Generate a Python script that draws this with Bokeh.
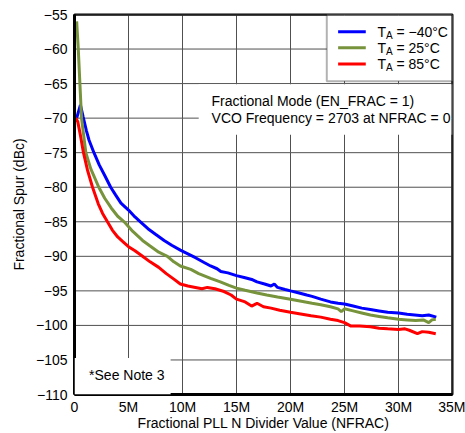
from bokeh.plotting import figure
from bokeh.models import Range1d, FixedTicker, BoxAnnotation, Label
from bokeh.embed import file_html
from bokeh.resources import INLINE

# ---- data (x in millions of NFRAC, y in dBc) ----
blue_x = [0.2, 0.55, 0.8, 1.1, 1.35, 1.8, 2.3, 2.8, 3.35, 3.8, 4.3, 5.0, 5.6, 6.1, 6.8, 7.5,
          8.3, 9.0, 9.8, 10.45, 11.2, 12.0, 12.6, 13.2, 13.55, 14.2, 15.0, 15.8, 16.5, 16.9,
          17.6, 18.2, 18.5, 18.8, 19.5, 20.0, 20.8, 21.5, 22.0, 22.8, 23.7, 24.4, 25.0, 25.8,
          26.6, 27.4, 28.2, 29.0, 30.0, 30.8, 31.5, 32.2, 32.8, 33.5]
blue_y = [-70.0, -68.1, -69.8, -71.8, -73.2, -75.0, -76.8, -78.3, -80.0, -81.1, -82.3, -83.3,
          -84.3, -85.0, -86.0, -86.8, -87.7, -88.4, -89.1, -89.6, -90.2, -90.9, -91.4, -91.8,
          -92.2, -92.4, -92.8, -93.1, -93.4, -93.7, -94.0, -94.3, -94.0, -94.5, -94.8, -95.0,
          -95.3, -95.6, -95.8, -96.2, -96.6, -96.8, -96.9, -97.2, -97.5, -97.7, -97.9, -98.1,
          -98.2, -98.4, -98.5, -98.6, -98.5, -98.8]

green_x = [0.2, 0.35, 0.5, 0.65, 0.85, 1.05, 1.5, 2.25, 2.8, 3.4, 4.0, 4.6, 5.4, 6.3, 7.0, 7.8,
           8.6, 9.2, 9.8, 10.77, 11.5, 12.6, 13.5, 14.3, 15.0, 15.8, 16.9, 17.8, 18.8, 20.0,
           21.0, 22.0, 22.8, 23.7, 24.4, 24.7, 25.0, 25.8, 26.6, 27.4, 28.2, 29.0, 30.0, 30.8,
           31.6, 32.3, 32.8, 33.1, 33.45]
green_y = [-56.0, -60.0, -65.0, -70.0, -72.5, -75.0, -77.3, -80.0, -81.6, -83.0, -84.2, -85.0,
           -86.4, -87.7, -88.5, -89.4, -90.0, -90.8, -91.4, -91.9, -92.5, -93.2, -93.7, -94.2,
           -94.6, -94.9, -95.3, -95.6, -95.9, -96.2, -96.5, -96.8, -97.0, -97.3, -97.6, -98.0,
           -97.6, -97.9, -98.2, -98.5, -98.7, -98.9, -99.1, -99.2, -99.3, -99.2, -99.6, -99.2,
           -99.1]

red_x = [0.1, 0.3, 0.55, 0.83, 1.2, 1.67, 2.2, 2.6, 3.05, 3.5, 4.0, 4.5, 5.0, 5.6, 6.3, 7.0,
         7.8, 8.5, 9.2, 9.8, 10.5, 11.2, 11.8, 12.3, 13.0, 13.85, 14.5, 15.0, 15.8, 16.4, 16.9,
         17.5, 18.2, 19.0, 20.0, 20.8, 21.9, 22.8, 23.7, 24.4, 25.0, 25.6, 26.4, 27.4, 28.2,
         29.0, 30.0, 30.6, 31.0, 31.75, 32.2, 32.8, 33.45]
red_y = [-70.0, -70.5, -72.5, -75.0, -77.5, -80.0, -82.4, -83.8, -85.0, -86.2, -87.2, -87.9,
         -88.6, -89.2, -90.0, -90.8, -91.6, -92.5, -93.3, -94.0, -94.3, -94.5, -94.7, -94.5,
         -94.7, -95.1, -95.6, -96.2, -96.6, -97.2, -96.8, -97.3, -97.5, -97.8, -98.1, -98.3,
         -98.6, -98.8, -99.1, -99.3, -99.6, -100.1, -100.1, -100.2, -100.4, -100.5, -100.6,
         -100.5, -100.7, -101.2, -100.9, -101.0, -101.2]

series_names = ["= \u221240\u00b0C", "= 25\u00b0C", "= 85\u00b0C"]
series_colors = ["#0000FF", "#77933C", "#FF0000"]

x_ticks = [0, 5, 10, 15, 20, 25, 30, 35]
x_tick_labels = ["0", "5M", "10M", "15M", "20M", "25M", "30M", "35M"]
y_ticks = [-110, -105, -100, -95, -90, -85, -80, -75, -70, -65, -60, -55]
y_tick_labels = ["\u2212" + str(abs(v)) for v in y_ticks]

FONT = "Liberation Sans"
X0, X1 = x_ticks[0], x_ticks[-1]
Y0, Y1 = y_ticks[0], y_ticks[-1]
GRID = "#505050"

p = figure(width=465, height=433, output_backend="svg", toolbar_location=None,
           x_range=Range1d(X0, X1), y_range=Range1d(Y0, Y1),
           min_border_left=74, min_border_right=13, min_border_top=14, min_border_bottom=0)
p.background_fill_color = "white"
p.border_fill_color = "white"
p.outline_line_color = "black"
p.outline_line_width = 2

p.xaxis.ticker = FixedTicker(ticks=x_ticks)
p.yaxis.ticker = FixedTicker(ticks=y_ticks)
p.xaxis.major_label_overrides = dict(zip(x_ticks, x_tick_labels))
p.yaxis.major_label_overrides = dict(zip(y_ticks, y_tick_labels))
for ax in (p.xaxis[0], p.yaxis[0]):
    ax.major_label_text_font = FONT
    ax.major_label_text_font_size = "14px"
    ax.major_label_text_color = "black"
    ax.axis_label_text_font = FONT
    ax.axis_label_text_font_size = "14px"
    ax.axis_label_text_font_style = "normal"
    ax.axis_label_text_color = "black"
    ax.major_tick_line_color = None
    ax.minor_tick_line_color = None
    ax.major_tick_out = 0
    ax.major_tick_in = 0
    ax.axis_line_color = "black"
    ax.axis_line_width = 3
    ax.major_label_standoff = 7
p.xaxis.axis_label = "Fractional PLL N Divider Value (NFRAC)"
p.yaxis.axis_label = "Fractional Spur (dBc)"
p.xaxis[0].major_label_standoff = 4
p.xaxis[0].axis_label_standoff = -3
p.xaxis[0].axis_label_text_line_height = 1.0
p.xaxis[0].major_label_text_line_height = 1.0
p.yaxis.axis_label_standoff = 6

# grid: drawn as short pieces between neighbouring ticks, beneath the curves
p.xgrid.visible = False
p.ygrid.visible = False
vx0, vy0, vx1, vy1 = [], [], [], []
for t in x_ticks[1:]:
    for a, b in zip(y_ticks[:-1], y_ticks[1:]):
        vx0.append(t); vy0.append(a); vx1.append(t); vy1.append(b)
hx0, hy0, hx1, hy1 = [], [], [], []
for t in y_ticks[1:]:
    for a, b in zip(x_ticks[:-1], x_ticks[1:]):
        hx0.append(a); hy0.append(t); hx1.append(b); hy1.append(t)
p.segment(x0=vx0, y0=vy0, x1=vx1, y1=vy1, line_color=GRID, line_width=1)
p.segment(x0=hx0, y0=hy0, x1=hx1, y1=hy1, line_color=GRID, line_width=1)

for xs, ys, c in zip([blue_x, green_x, red_x], [blue_y, green_y, red_y], series_colors):
    p.line(xs, ys, line_color=c, line_width=3)

# annotation box (white, no border)
p.add_layout(BoxAnnotation(left=11.5, right=35, top=-65.1, bottom=-72.4,
                           fill_color="white", fill_alpha=1, line_color=None))
p.add_layout(Label(x=12.69, y=-67.45, text="Fractional Mode (EN_FRAC = 1)",
                   text_font=FONT, text_font_size="14px", text_baseline="middle",
                   text_color="black"))
p.add_layout(Label(x=12.69, y=-69.95, text="VCO Frequency = 2703 at NFRAC = 0",
                   text_font=FONT, text_font_size="14px", text_baseline="middle",
                   text_color="black"))

# note box
p.add_layout(BoxAnnotation(left=0, right=8.9, top=-104.7, bottom=-110,
                           fill_color="white", fill_alpha=1, line_color=None))
p.add_layout(Label(x=1.35, y=-107.24, text="*See Note 3", text_font=FONT,
                   text_font_size="14px", text_baseline="middle", text_color="black"))

# legend box
p.add_layout(BoxAnnotation(left=23.36, right=35, top=-55, bottom=-64.67,
                           fill_color="white", fill_alpha=1, line_color="black",
                           line_width=2))
row_y = [-57.5, -59.8, -62.16]
for ry, name, c in zip(row_y, series_names, series_colors):
    p.add_layout(BoxAnnotation(left=24.41, right=26.97, top=ry + 0.22, bottom=ry - 0.22,
                               fill_color=c, fill_alpha=1, line_color=None))
    p.add_layout(Label(x=28.05, y=ry, text="T", text_font=FONT, text_font_size="14px",
                       text_baseline="middle", text_color="black"))
    p.add_layout(Label(x=28.05, y=ry, x_offset=8.6, y_offset=-4, text="A", text_font=FONT,
                       text_font_size="10px", text_baseline="middle", text_color="black"))
    p.add_layout(Label(x=28.05, y=ry, x_offset=19, text=name, text_font=FONT,
                       text_font_size="14px", text_baseline="middle", text_color="black"))

# frame border pieces (right edge below the legend; top edge left of the legend)
for a, b in zip(y_ticks[:-1], y_ticks[1:]):
    p.add_layout(BoxAnnotation(left=X1 - 0.09, right=X1, bottom=a, top=b,
                               fill_color="black", fill_alpha=1, line_color=None))
for a, b in zip(x_ticks[:-1], x_ticks[1:]):
    p.add_layout(BoxAnnotation(left=a, right=b, bottom=Y1 - 0.14, top=Y1,
                               fill_color="black", fill_alpha=1, line_color=None))

open("out.html", "w").write(file_html(p, INLINE))
